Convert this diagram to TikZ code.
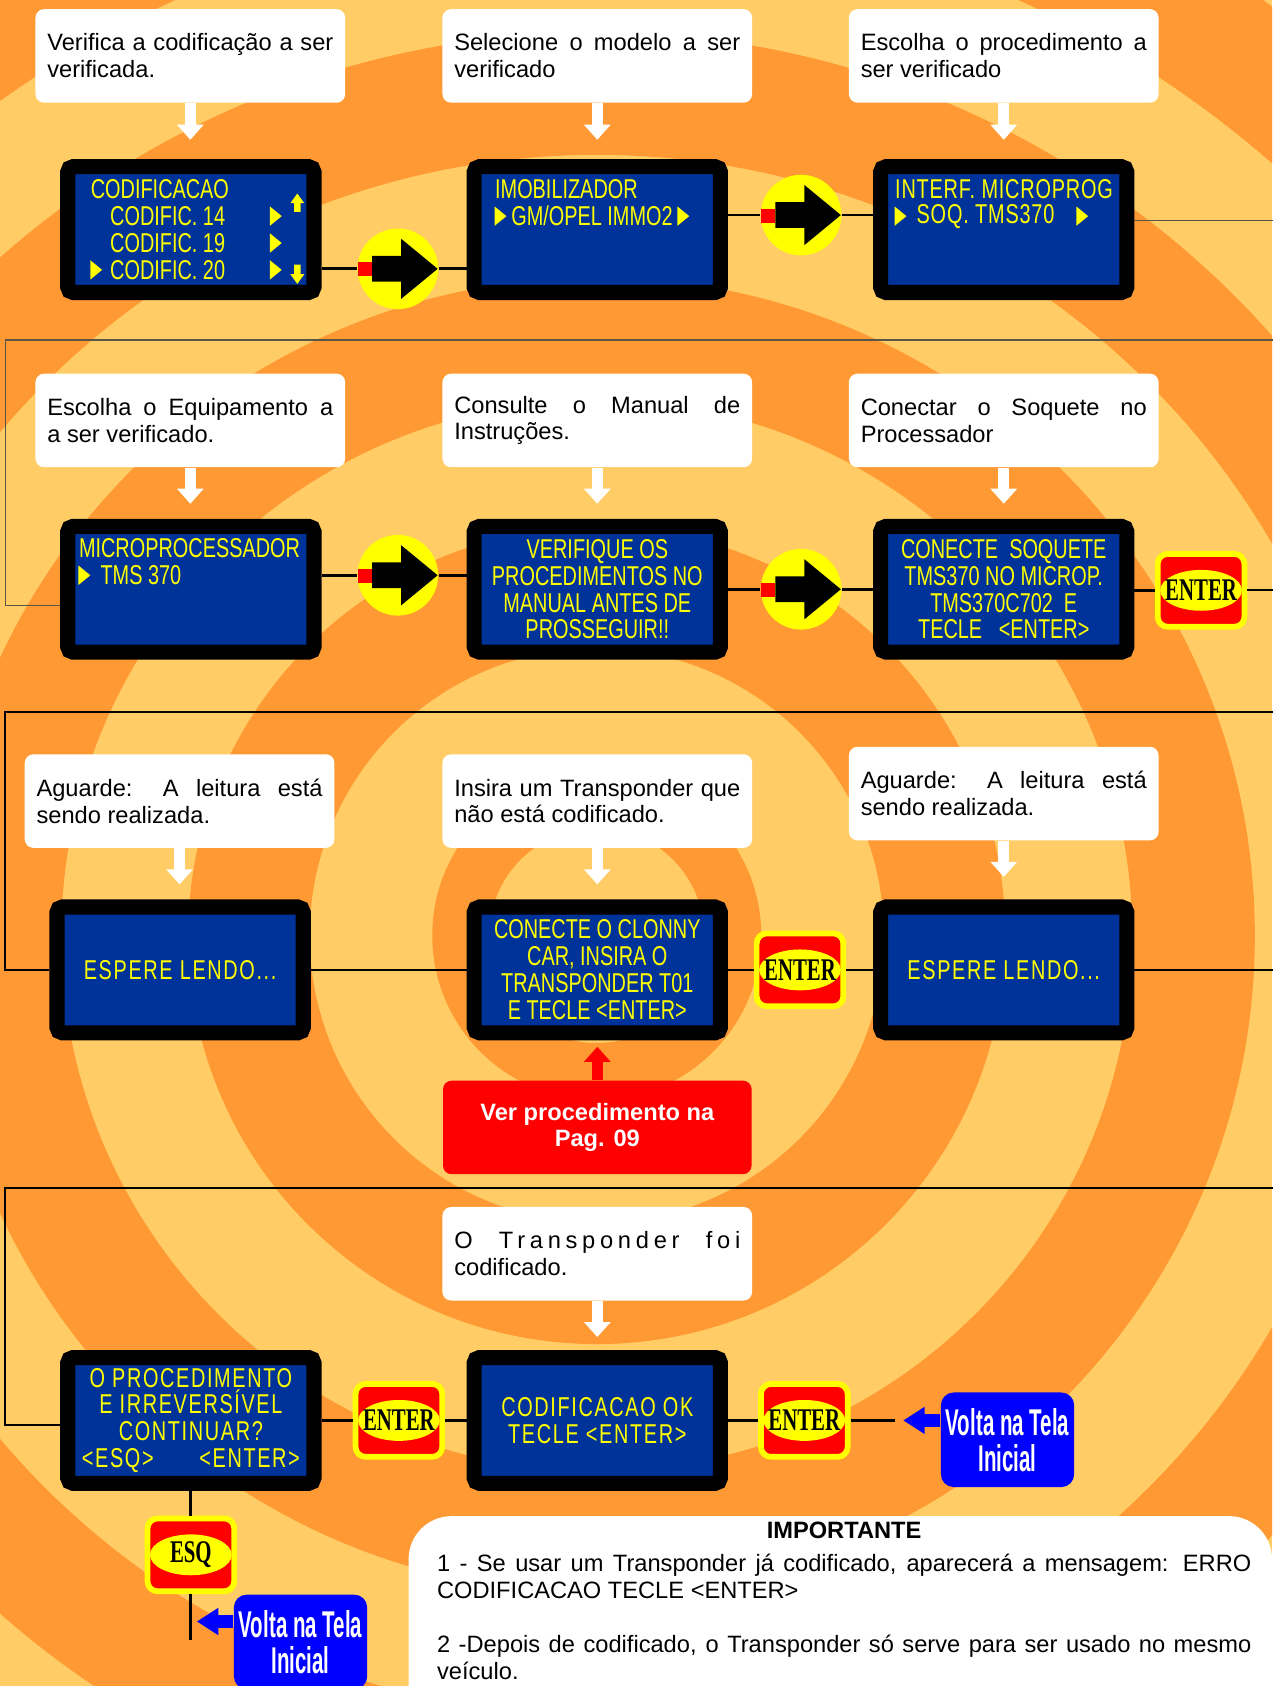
\documentclass[tikz,border=0pt]{standalone}
\usepackage{fontspec}
\setmainfont{Liberation Sans}
\newfontfamily\lcdfont[FakeStretch=0.73]{Liberation Sans}
\newfontfamily\lcdwidefont[FakeStretch=0.73,LetterSpace=6]{Liberation Sans}
\newfontfamily\keyfont[FakeStretch=0.66]{Liberation Serif}
\newfontfamily\voltafont[FakeStretch=0.55]{Liberation Sans}
\usetikzlibrary{arrows.meta}

\definecolor{bglight}{RGB}{255,204,102}
\definecolor{bgdark}{RGB}{255,153,51}
\definecolor{lcdblue}{RGB}{0,51,153}
\definecolor{lcdyel}{RGB}{255,255,0}
\definecolor{btnred}{RGB}{255,0,0}
\definecolor{voltablue}{RGB}{0,0,255}
\definecolor{loopgray}{RGB}{90,85,70}

\tikzset{every picture/.style={line width=0.75pt}}
\tikzset{
  note/.style={fill=white, rounded corners=6pt, minimum width=216pt, minimum height=65.25pt,
    text width=199.5pt, inner sep=0pt, align=justify, font=\fontsize{16.5}{18.75}\selectfont},
  lcd/.style={draw=black, line width=10.5pt, fill=lcdblue, rounded corners=3.75pt,
    minimum width=171.75pt, minimum height=87.75pt, inner sep=0pt, text=lcdyel, align=center,
    font=\lcdfont\fontsize{19}{18.75}\selectfont},
  lcdspaced/.style={font=\lcdwidefont\fontsize{19}{18.75}\selectfont},
  lcdline/.style={text=lcdyel, inner sep=0pt, anchor=west, font=\lcdfont\fontsize{19}{18.75}\selectfont},
  gobtn/.style={circle, fill=lcdyel, minimum size=56.25pt, inner sep=0pt},
  keybtn/.style={draw=lcdyel, line width=4pt, fill=btnred, rounded corners=7pt,
    minimum width=60.5pt, minimum height=50.8pt, inner sep=0pt,
    font=\keyfont\bfseries\fontsize{22}{22}\selectfont,
    path picture={\fill[lcdyel] (path picture bounding box.center) ellipse [x radius=28.5pt, y radius=14.25pt];}},
  voltabox/.style={fill=voltablue, rounded corners=9pt, minimum width=93pt, minimum height=66pt,
    inner sep=0pt, text=white, align=center, font=\voltafont\bfseries\fontsize{26}{25}\selectfont},
  redbox/.style={fill=btnred, rounded corners=6pt, minimum width=215.25pt, minimum height=65.25pt,
    inner sep=0pt, text=white, align=center, font=\bfseries\fontsize{16.5}{18}\selectfont},
  flow/.style={line width=1.9pt},
  loopthin/.style={draw=loopgray, line width=1.1pt},
  loopthick/.style={line width=1.5pt},
  whitearrow/.style={draw=white, line width=7.5pt, -{Triangle[width=18pt,length=10.5pt]}},
  redarrow/.style={draw=btnred, line width=7.5pt, -{Triangle[width=18pt,length=10.5pt]}},
  bluearrow/.style={draw=voltablue, line width=9pt, -{Triangle[width=18pt,length=15pt]}},
}

\begin{document}
\begin{tikzpicture}[x=0.75pt,y=0.75pt,yscale=-1,xscale=1]
	\useasboundingbox (0,0) rectangle (1183,1568);

	% background rings
	\begin{scope}
	\clip (0,0) rectangle (1183,1568);
	\fill[bglight] (0,0) rectangle (1183,1568);
	\foreach \ro/\ri in {1068/954, 840/726, 612/498, 380/267, 153/100}
		\fill[bgdark, even odd rule] (555,870) circle [radius=\ro] (555,870) circle [radius=\ri];
	\end{scope}

	% white box of the notes
	\fill[white, rounded corners=30pt] (380,1720) -- (380,1410) -- (1183,1410) -- (1183,1720);

	% Notes
	\node[note] (w1) at (177,52) {Verifica a codificação a ser\linebreak verificada.};
	\node[note] (w2) at (555.5,52) {Selecione o modelo a ser\linebreak verificado};
	\node[note] (w3) at (933.5,52) {Escolha o procedimento a\linebreak ser verificado};
	\node[note] (w4) at (177,391) {Escolha o Equipamento a\linebreak a ser verificado.};
	\node[note] (w5) at (555.5,391) {Consulte o Manual de\linebreak Instruções.};
	\node[note] (w6) at (933.5,391) {Conectar o Soquete no\linebreak Processador};
	\node[note] (w7) at (167,745) {Aguarde: A leitura está\linebreak sendo realizada.};
	\node[note] (w8) at (555.5,745) {Insira um Transponder que\linebreak não está codificado.};
	\node[note] (w9) at (933.5,738) {Aguarde: A leitura está\linebreak sendo realizada.};
	\node[note] (w10) at (555.5,1166) {{\addfontfeature{LetterSpace=20}O Transponder foi}\linebreak codificado.};

	% Screens
	\node[lcd] (l1) at (177.5,213.5) {};
	\node[lcd] (l2) at (555.5,213.5) {};
	\node[lcd] (l3) at (933.5,213.5) {};
	\node[lcd] (l4) at (177.5,548) {};
	\node[lcd] (l5) at (555.5,548) {VERIFIQUE OS\\PROCEDIMENTOS NO\\MANUAL ANTES DE\\PROSSEGUIR!!};
	\node[lcd] (l6) at (933.5,548) {CONECTE \ SOQUETE\\TMS370 NO MICROP.\\TMS370C702 \ E\\TECLE \ \ <ENTER>};
	\node[lcd, lcdspaced] (l7) at (167.5,902) {ESPERE LENDO...};
	\node[lcd] (l8) at (555.5,902) {CONECTE O CLONNY\\CAR, INSIRA O\\TRANSPONDER T01\\E TECLE <ENTER>};
	\node[lcd, lcdspaced] (l9) at (933.5,902) {ESPERE LENDO...};
	\node[lcd, lcdspaced] (l10) at (177.5,1321) {O PROCEDIMENTO\\E IRREVERSÍVEL\\CONTINUAR?\\\makebox[152pt]{<ESQ>\hfill<ENTER>}};
	\node[lcd, lcdspaced] (l11) at (555.5,1321) {CODIFICACAO OK\\TECLE <ENTER>};

	% Screen lines
	\node[lcdline] (t1a) at (84,176) {CODIFICACAO};
	\node[lcdline] (t1b) at (102,201) {CODIFIC. 14};
	\node[lcdline] (t1c) at (102,226) {CODIFIC. 19};
	\node[lcdline] (t1d) at (102,251) {CODIFIC. 20};
	\node[lcdline] (t2a) at (460,176) {IMOBILIZADOR};
	\node[lcdline] (t2b) at (475,201) {GM/OPEL IMMO2};
	\node[lcdline] (t3a) at (832,176) {\addfontfeature{LetterSpace=3}INTERF. MICROPROG};
	\node[lcdline] (t3b) at (852,201) {\addfontfeature{LetterSpace=3}SOQ. TMS370};
	\node[lcdline] (t4a) at (73,510) {MICROPROCESSADOR};
	\node[lcdline] (t4b) at (93,535) {TMS 370};
	\foreach \x/\y in {84/251, 251/201, 251/226, 251/251, 460/201, 630/201, 832/201, 1001/201, 73/535}
		\fill[lcdyel] (\x,\y-9) -- (\x,\y+9) -- (\x+11,\y) -- cycle;
	\fill[lcdyel] (270,189) -- (276.5,180) -- (283,189) -- (279.5,189) -- (279.5,197) -- (273.5,197) -- (273.5,189) -- cycle;
	\fill[lcdyel] (273.5,246) -- (279.5,246) -- (279.5,255) -- (283,255) -- (276.5,264) -- (270,255) -- (273.5,255) -- cycle;

	% Go buttons
	\node[gobtn] (n1) at (370,250) {};
	\node[gobtn] (n2) at (745,200) {};
	\node[gobtn] (n3) at (370,535) {};
	\node[gobtn] (n4) at (745,548) {};
	\foreach \n in {n1,n2,n3,n4}{
		\fill[btnred] (\n.center) ++(-37,-6) rectangle ++(13,13);
		\fill (\n.center) ++(-24,-12) -- ++(27,0) -- ++(0,-16) -- ++(34,28) -- ++(-34,28) -- ++(0,-16) -- ++(-27,0) -- cycle;
	}

	% Keys
	\node[keybtn] (k1) at (1117,549) {ENTER};
	\node[keybtn] (k2) at (744,902) {ENTER};
	\node[keybtn] (k3) at (371,1321) {ENTER};
	\node[keybtn] (k4) at (748,1321) {ENTER};
	\node[keybtn] (kesq) at (177.5,1446) {ESQ};

	% Volta na Tela
	\node[voltabox] (v1) at (937,1339) {Volta na Tela\\Inicial};
	\node[voltabox] (v2) at (279.5,1527) {Volta na Tela\\Inicial};
	\node[redbox] (r1) at (555.5,1048.5) {Ver procedimento na\\Pag. 09};

	% Importante
	\node[font=\bfseries\fontsize{16.5}{18.75}\selectfont, inner sep=0pt] (imp) at (785,1423) {IMPORTANTE};
	\node[anchor=north west, text width=568pt, align=justify, inner sep=0pt, font=\fontsize{16.5}{18.75}\selectfont] (impbody) at (406,1445)
		{1 - Se usar um Transponder já codificado, aparecerá a mensagem: ERRO\linebreak CODIFICACAO TECLE <ENTER>\par\vspace{18.75pt}2 -Depois de codificado, o Transponder só serve para ser usado no mesmo\linebreak veículo.};

	% Free ends
	\coordinate (stub1) at (832,1321);
	\coordinate (tip1) at (840,1321);
	\coordinate (stub2) at (177.5,1525);
	\coordinate (tip2) at (183,1508);
	\coordinate (a1) at (1200,205);
	\coordinate (a2) at (5,563);
	\coordinate (b1) at (1200,549);
	\coordinate (b2) at (5,902);
	\coordinate (c1) at (1200,902);
	\coordinate (c2) at (5,1325);

	% Connectors
	\draw[flow] (l1.east |- n1) -- (n1);
	\draw[flow] (n1) -- (l2.west |- n1);
	\draw[flow] (l2.east |- n2) -- (n2);
	\draw[flow] (n2) -- (l3.west |- n2);
	\draw[flow] (l4.east |- n3) -- (n3);
	\draw[flow] (n3) -- (l5.west |- n3);
	\draw[flow] (l5.east |- n4) -- (n4);
	\draw[flow] (n4) -- (l6.west |- n4);
	\draw[flow] (l6.east |- k1) -- (k1);
	\draw[flow] (l7) -- (l8);
	\draw[flow] (l8) -- (k2) -- (l9);
	\draw[flow] (l10) -- (k3) -- (l11) -- (k4) -- (stub1);
	\draw[flow] (l10) -- (kesq);
	\draw[flow] (kesq) -- (stub2);

	% Loops
	\draw[loopthin] (l3.east |- a1) -- (a1) |- (5,316) -- (a2) -- (l4.west |- a2);
	\draw[loopthick] (k1) -- (b1) |- (5,662) -- (b2) -- (l7.west |- b2);
	\draw[loopthick] (l9.east) -- (c1) |- (5,1105) -- (c2) -- (l10.west |- c2);

	% Arrows
	\foreach \w/\l/\s in {w1/l1/13.5pt, w2/l2/13.5pt, w3/l3/13.5pt, w4/l4/10.5pt, w5/l5/10.5pt, w6/l6/10.5pt, w7/l7/10.5pt, w8/l8/10.5pt, w9/l9/15.75pt, w10/l11/9pt}
		\draw[whitearrow, shorten >=\s] (\w.south) -- (\w.south |- \l.north);
	\draw[redarrow, shorten >=4.5pt] (r1.north) -- (r1.north |- l8.south);
	\draw[bluearrow] (v1.west |- tip1) -- (tip1);
	\draw[bluearrow] (v2.west |- tip2) -- (tip2);

\end{tikzpicture}
\end{document}
